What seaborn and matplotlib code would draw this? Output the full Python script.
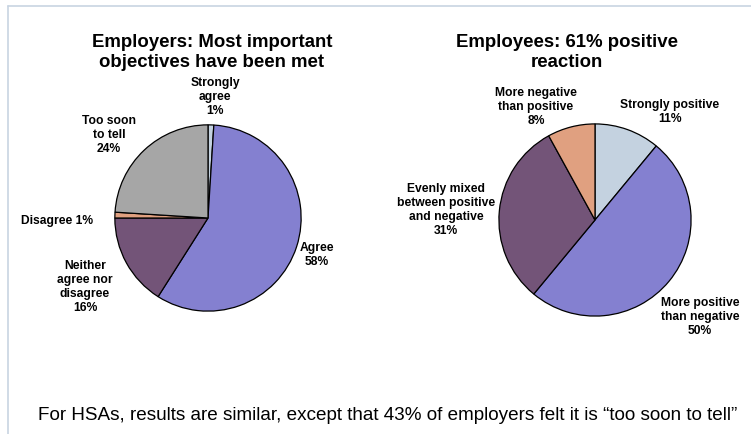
import seaborn as sns
import matplotlib.pyplot as plt
from matplotlib.lines import Line2D

# Employers pie (clockwise from 12 o'clock)
emp_labels = ['Strongly\nagree\n1%', 'Agree\n58%', 'Neither\nagree nor\ndisagree\n16%',
              'Disagree 1%', 'Too soon\nto tell\n24%']
emp_values = [1, 58, 16, 1, 24]

# Employees pie
ee_labels = ['Strongly positive\n11%', 'More positive\nthan negative\n50%',
             'Evenly mixed\nbetween positive\nand negative\n31%', 'More negative\nthan positive\n8%']
ee_values = [11, 50, 31, 8]

emp_colors = ['#c4d2e0', '#8480d0', '#735478', '#e0a080', '#a6a6a6']
ee_colors = ['#c4d2e0', '#8480d0', '#735478', '#e0a080']

sns.set_theme(style='white')
plt.rcParams['font.family'] = ['Liberation Sans', 'DejaVu Sans']
plt.rcParams['text.color'] = 'black'

W, H = 751, 435
fig = plt.figure(figsize=(W / 100, H / 100), dpi=100)


def px_axes(cx, cy, r):
    # square axes in pixel units, centred on (cx, cy) from top-left
    return fig.add_axes([(cx - r) / W, (H - cy - r) / H, 2 * r / W, 2 * r / H])


def draw_pie(ax, values, colors):
    ax.pie(values, colors=colors, startangle=90, counterclock=False,
           wedgeprops=dict(edgecolor='black', linewidth=0.9))
    ax.set_xlim(-1.02, 1.02)
    ax.set_ylim(-1.02, 1.02)
    ax.set_aspect('equal')
    ax.axis('off')


ax1 = px_axes(208, 219, 95)
draw_pie(ax1, emp_values, emp_colors)
ax2 = px_axes(595, 221, 98)
draw_pie(ax2, ee_values, ee_colors)

title_kw = dict(fontsize=13.4, fontweight='bold', ha='center', va='center', linespacing=1.2)
fig.text(212 / W, 1 - 52.5 / H, 'Employers: Most important\nobjectives have been met', **title_kw)
fig.text(567 / W, 1 - 52.5 / H, 'Employees: 61% positive\nreaction', **title_kw)

lab_kw = dict(fontsize=8.7, fontweight='bold', ha='center', va='center', linespacing=1.2)
emp_pos = [(215, 97), (317, 255), (85, 287), (57, 221), (109, 135)]
for txt, (x, y) in zip(emp_labels, emp_pos):
    fig.text(x / W, 1 - y / H, txt, **lab_kw)

ee_pos = [(670, 112), (700, 317), (446, 210), (536, 107)]
for txt, (x, y) in zip(ee_labels, ee_pos):
    fig.text(x / W, 1 - y / H, txt, **lab_kw)

fig.text(388 / W, 1 - 416 / H,
         'For HSAs, results are similar, except that 43% of employers felt it is \u201ctoo soon to tell\u201d',
         fontsize=13.6, ha='center', va='center', color='black')

# thin frame lines on top and left
border = '#c8d4e2'
fig.add_artist(Line2D([8 / W, 1], [1 - 7 / H, 1 - 7 / H], color=border, lw=1.2))
fig.add_artist(Line2D([8 / W, 8 / W], [0, 1 - 7 / H], color=border, lw=1.2))

fig.savefig('out.png', dpi=100)
